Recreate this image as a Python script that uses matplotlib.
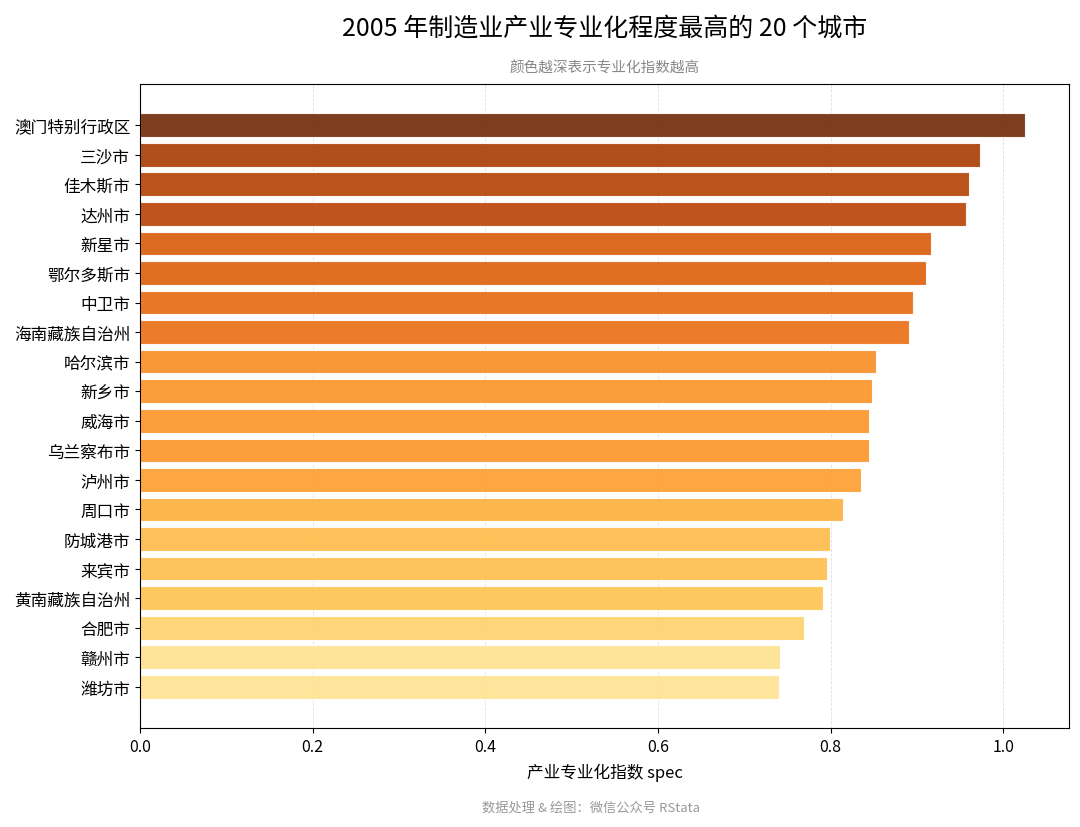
import numpy as np
import matplotlib
matplotlib.use("Agg")
import matplotlib.pyplot as plt
from matplotlib import colors

plt.rcParams['font.family'] = ['Noto Sans CJK SC', 'DejaVu Sans']

# data (top to bottom)
cities = ["澳门特别行政区", "三沙市", "佳木斯市", "达州市", "新星市", "鄂尔多斯市",
          "中卫市", "海南藏族自治州", "哈尔滨市", "新乡市", "威海市", "乌兰察布市",
          "泸州市", "周口市", "防城港市", "来宾市", "黄南藏族自治州", "合肥市",
          "赣州市", "潍坊市"]
spec = [1.025, 0.973, 0.960, 0.957, 0.916, 0.911, 0.895, 0.891, 0.853, 0.848,
        0.845, 0.844, 0.835, 0.815, 0.799, 0.796, 0.791, 0.769, 0.742, 0.740]

# plot from smallest at bottom
cities_r = cities[::-1]
spec_r = np.array(spec[::-1])

norm = colors.Normalize(vmin=spec_r.min(), vmax=spec_r.max())
cmap = plt.get_cmap("YlOrBr")
bar_colors = [cmap(0.25 + 0.72 * norm(v)) for v in spec_r]

fig = plt.figure(figsize=(10.8, 8.28), dpi=100)
ax = fig.add_axes([0.1296, 0.1196, 0.8602, 0.7777])

ax.barh(cities_r, spec_r, height=0.8, color=bar_colors, alpha=0.9,
        edgecolor="white", linewidth=0.8)

ax.set_xlim(0, max(spec) * 1.05)
ax.grid(axis="x", linestyle="--", linewidth=0.6, color="#cccccc", alpha=0.6)
ax.set_axisbelow(True)

ax.tick_params(axis="y", labelsize=12)
ax.tick_params(axis="x", labelsize=11.5)
ax.set_xlabel("产业专业化指数 spec", fontsize=12, labelpad=6)

# title centred over the axes
ax.text(0.5, 1.087, "2005 年制造业产业专业化程度最高的 20 个城市",
        transform=ax.transAxes, ha="center", va="center", fontsize=18)
ax.set_title("颜色越深表示专业化指数越高", fontsize=10.5, color="#888888", pad=9)
fig.text(0.547, 0.024, "数据处理 & 绘图：微信公众号 RStata",
         ha="center", va="center", fontsize=9.5, color="#999999")

plt.savefig("out.png", dpi=100)
plt.close()
